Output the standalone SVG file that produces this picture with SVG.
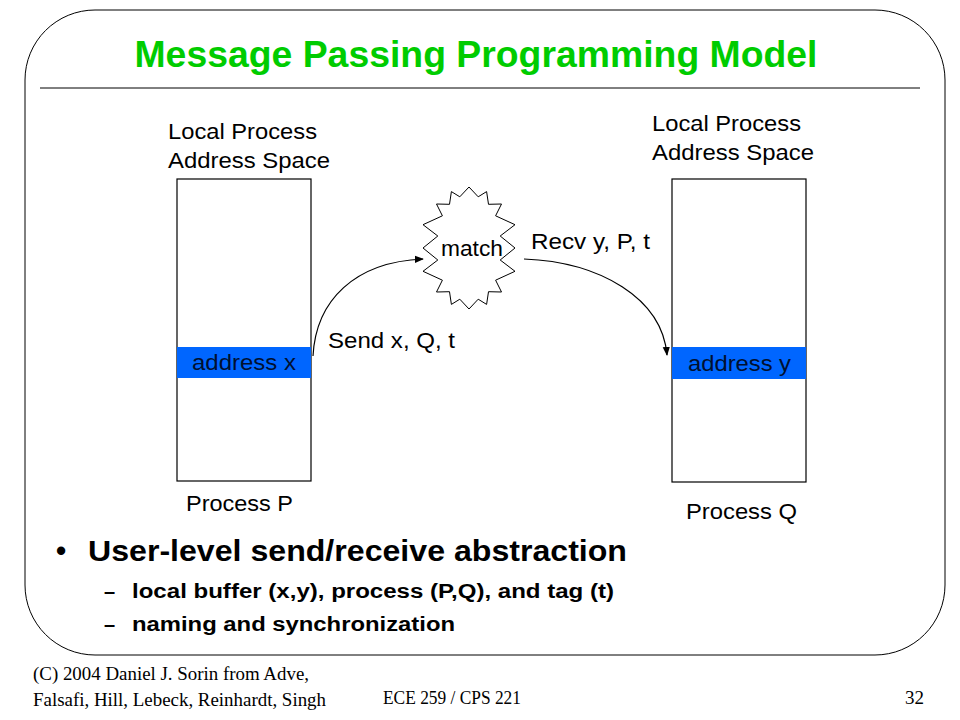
<svg xmlns="http://www.w3.org/2000/svg" width="960" height="720" viewBox="0 0 960 720">
<defs>
<style>
.t{font-family:"Liberation Sans",Arial,sans-serif;fill:#000}
.n{font-size:22px}
.b{font-weight:bold}
.f{font-family:"Liberation Serif","Times New Roman",serif;font-size:19px;fill:#000}
.box{fill:#fff;stroke:#000;stroke-width:1.2}
.band{fill:#0066ff}
.conn{fill:none;stroke:#000;stroke-width:1.2}
</style>
<marker id="ah" viewBox="0 0 10 10" refX="9" refY="5" markerWidth="9" markerHeight="9" markerUnits="userSpaceOnUse" orient="auto">
<path d="M0,1 L10,5 L0,9 Z" fill="#000"/>
</marker>
</defs>
<rect width="960" height="720" fill="#fff"/>
<rect x="25" y="10" width="920" height="645" rx="70" ry="70" fill="none" stroke="#000" stroke-width="1"/>
<text class="t b" x="476" y="67" font-size="37" text-anchor="middle" style="fill:#00cc00" textLength="683" lengthAdjust="spacingAndGlyphs">Message Passing Programming Model</text>
<line x1="40" y1="88" x2="920" y2="88" stroke="#000" stroke-width="1"/>

<g id="processP">
<text class="t n" x="168" y="139" textLength="149" lengthAdjust="spacingAndGlyphs">Local Process</text>
<text class="t n" x="168" y="168" textLength="162" lengthAdjust="spacingAndGlyphs">Address Space</text>
<rect class="box" x="177" y="179" width="134" height="302"/>
<rect class="band" x="177" y="347" width="134" height="31"/>
<text class="t n" x="192" y="370" textLength="104" lengthAdjust="spacingAndGlyphs" style="fill:#001030">address x</text>
<text class="t n" x="186" y="511" textLength="107" lengthAdjust="spacingAndGlyphs">Process P</text>
</g>

<g id="processQ">
<text class="t n" x="652" y="131" textLength="149" lengthAdjust="spacingAndGlyphs">Local Process</text>
<text class="t n" x="652" y="160" textLength="162" lengthAdjust="spacingAndGlyphs">Address Space</text>
<rect class="box" x="672" y="179" width="134" height="303"/>
<rect class="band" x="672" y="347" width="134" height="32"/>
<text class="t n" x="688" y="371" textLength="103" lengthAdjust="spacingAndGlyphs" style="fill:#001030">address y</text>
<text class="t n" x="686" y="519" textLength="111" lengthAdjust="spacingAndGlyphs">Process Q</text>
</g>

<g id="match">
<polygon fill="#fff" stroke="#000" stroke-width="1" points="469.0,187.0 478.2,196.8 486.6,191.6 488.5,204.3 501.5,204.0 495.6,215.8 515.0,224.7 500.2,236.0 515.0,248.0 500.2,260.0 515.0,271.3 495.6,280.2 501.5,292.0 488.5,291.7 486.6,304.4 478.2,299.2 469.0,309.0 459.8,299.2 451.4,304.4 449.5,291.7 436.5,292.0 442.4,280.2 423.0,271.3 437.8,260.0 423.0,248.0 437.8,236.0 423.0,224.7 442.4,215.8 436.5,204.0 449.5,204.3 451.4,191.6 459.8,196.8"/>
<text class="t n" x="441" y="256" textLength="62" lengthAdjust="spacingAndGlyphs">match</text>
</g>

<g id="connectors">
<path class="conn" d="M313,356 C316,300 355,262 423,259" marker-end="url(#ah)"/>
<path class="conn" d="M524,259 C600,262 662,298 667,355" marker-end="url(#ah)"/>
<text class="t n" x="328" y="348" textLength="127" lengthAdjust="spacingAndGlyphs">Send x, Q, t</text>
<text class="t n" x="531" y="249" textLength="119" lengthAdjust="spacingAndGlyphs">Recv y, P, t</text>
</g>

<g id="bullets">
<text class="t b" x="56" y="561" font-size="29">•</text>
<text class="t b" x="88" y="561" font-size="29" textLength="539" lengthAdjust="spacingAndGlyphs">User-level send/receive abstraction</text>
<text class="t b" x="104" y="598" font-size="20">–</text>
<text class="t b" x="132" y="598" font-size="20" textLength="482" lengthAdjust="spacingAndGlyphs">local buffer (x,y), process (P,Q), and tag (t)</text>
<text class="t b" x="104" y="631" font-size="20">–</text>
<text class="t b" x="132" y="631" font-size="20" textLength="323" lengthAdjust="spacingAndGlyphs">naming and synchronization</text>
</g>

<g id="footer">
<text class="f" x="33" y="680" textLength="276" lengthAdjust="spacingAndGlyphs">(C) 2004 Daniel J. Sorin from Adve,</text>
<text class="f" x="33" y="706" textLength="293" lengthAdjust="spacingAndGlyphs">Falsafi, Hill, Lebeck, Reinhardt, Singh</text>
<text class="f" x="383" y="704" textLength="138" lengthAdjust="spacingAndGlyphs">ECE 259 / CPS 221</text>
<text class="f" x="905" y="704">32</text>
</g>
</svg>
